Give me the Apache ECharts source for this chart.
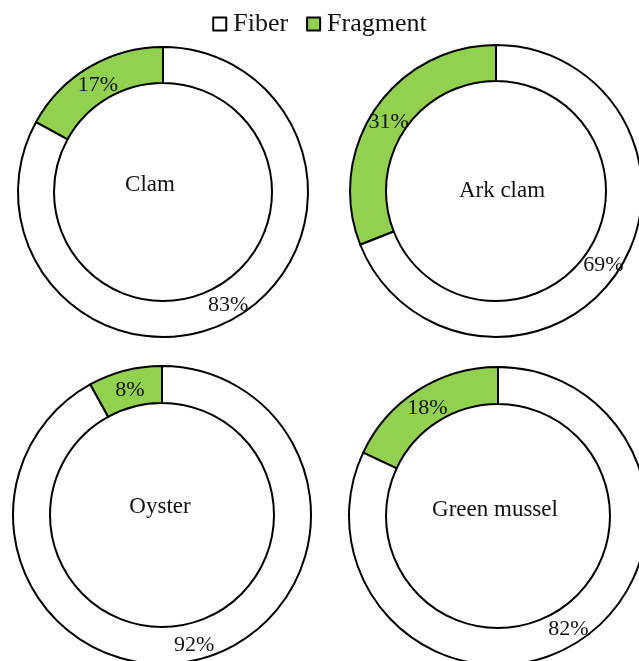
<!DOCTYPE html>
<html>
<head>
<meta charset="utf-8">
<script src="https://cdn.jsdelivr.net/npm/echarts@6/dist/echarts.min.js"></script>
<style>
  html, body { margin: 0; padding: 0; background: #fff; }
  #chart { width: 639px; height: 661px; }
</style>
</head>
<body>
<div id="chart"></div>
<script>
// Share of microplastic shapes per bivalve species (%)
const species = ['Clam', 'Ark clam', 'Oyster', 'Green mussel'];
const shapes = ['Fiber', 'Fragment'];
const fiberPct = [83, 69, 92, 82];
const fragmentPct = [17, 31, 8, 18];

// Placement of each donut: [centerX, centerY, innerR, outerR] and caption anchor
const donutLayout = [
  [163, 192, 109, 145],
  [496, 191, 110, 146],
  [162, 515, 112, 149],
  [498, 516, 112, 149]
];
const captionPos = [[150, 185], [502, 191], [160, 507], [495, 510]];

const FONT = '"Liberation Serif", "Times New Roman", serif';
const shapeColors = { Fiber: '#ffffff', Fragment: '#92D050' };

const chart = echarts.init(document.getElementById('chart'), null, { renderer: 'canvas' });

const series = species.map((name, i) => {
  const [cx, cy, r0, r1] = donutLayout[i];
  return {
    type: 'pie',
    name: name,
    center: [cx, cy],
    radius: [r0, r1],
    startAngle: 90,
    clockwise: false,
    avoidLabelOverlap: false,
    silent: true,
    itemStyle: { borderColor: '#000', borderWidth: 2 },
    label: {
      show: true,
      position: 'inside',
      formatter: '{c}%',
      color: '#111',
      fontFamily: FONT,
      fontSize: 22
    },
    labelLine: { show: false },
    data: [
      {
        name: 'Fragment', value: fragmentPct[i],
        itemStyle: { color: shapeColors.Fragment },
        label: { offset: [1, 5] }
      },
      {
        name: 'Fiber', value: fiberPct[i],
        itemStyle: { color: shapeColors.Fiber },
        label: { offset: [-1, 1] }
      }
    ]
  };
});

const captions = species.map((name, i) => ({
  type: 'text',
  x: captionPos[i][0],
  y: captionPos[i][1],
  silent: true,
  style: {
    text: name,
    fill: '#111',
    font: '23px ' + FONT,
    align: 'center',
    verticalAlign: 'middle',
    textAlign: 'center',
    textVerticalAlign: 'middle'
  }
}));

chart.setOption({
  animation: false,
  backgroundColor: '#fff',
  legend: {
    data: shapes,
    top: 6,
    left: 'center',
    icon: 'rect',
    itemWidth: 13,
    itemHeight: 13,
    itemGap: 18,
    itemStyle: { borderColor: '#000', borderWidth: 2 },
    textStyle: { fontFamily: FONT, fontSize: 26, color: '#111', padding: [0, 0, 0, 2] }
  },
  series: series,
  graphic: captions
});
</script>
</body>
</html>
